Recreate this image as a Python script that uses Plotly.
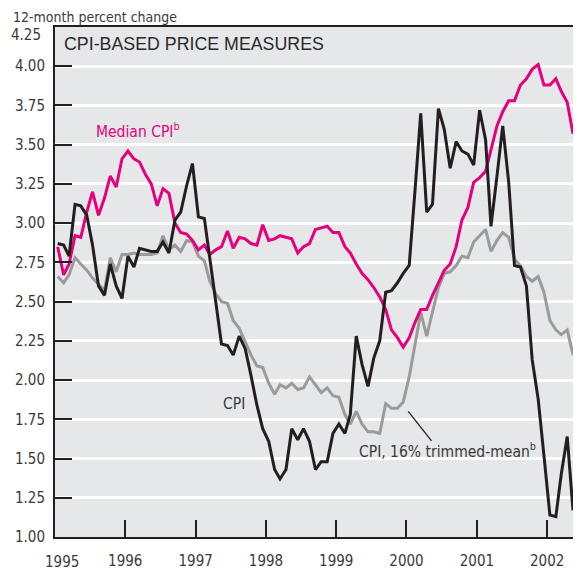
import plotly.graph_objects as go
import pandas as pd

# Monthly observations, Jan 1995 - May 2002 (plotted mid-month)
dates = pd.date_range("1995-01-01", periods=89, freq="MS") + pd.Timedelta(days=14)

cpi = [2.87, 2.86, 2.79, 3.12, 3.11, 3.05, 2.86, 2.60, 2.54, 2.74, 2.60, 2.52,
       2.79, 2.72, 2.84, 2.83, 2.82, 2.82, 2.88, 2.81, 3.02, 3.07, 3.24, 3.38,
       3.04, 3.03, 2.78, 2.50, 2.23, 2.22, 2.16, 2.28, 2.20, 2.03, 1.84, 1.69,
       1.61, 1.43, 1.37, 1.43, 1.69, 1.62, 1.69, 1.61, 1.43, 1.48, 1.48, 1.66,
       1.72, 1.66, 1.78, 2.28, 2.10, 1.96, 2.14, 2.25, 2.56, 2.57, 2.62, 2.68,
       2.73, 3.22, 3.70, 3.07, 3.12, 3.73, 3.60, 3.35, 3.52, 3.46, 3.44, 3.37,
       3.72, 3.53, 2.98, 3.30, 3.62, 3.26, 2.73, 2.72, 2.60, 2.13, 1.88, 1.52,
       1.14, 1.13, 1.40, 1.64, 1.17]

median_cpi = [2.85, 2.67, 2.74, 2.92, 2.91, 3.07, 3.20, 3.05, 3.16, 3.30, 3.23, 3.41,
              3.46, 3.41, 3.39, 3.31, 3.25, 3.11, 3.22, 3.19, 3.00, 2.94, 2.93, 2.89,
              2.83, 2.86, 2.80, 2.83, 2.85, 2.95, 2.84, 2.91, 2.90, 2.87, 2.86, 2.99,
              2.89, 2.90, 2.92, 2.91, 2.90, 2.81, 2.85, 2.87, 2.96, 2.97, 2.98, 2.94,
              2.94, 2.85, 2.81, 2.74, 2.68, 2.64, 2.59, 2.53, 2.45, 2.32, 2.27, 2.21,
              2.27, 2.37, 2.45, 2.45, 2.54, 2.62, 2.70, 2.74, 2.85, 3.02, 3.10, 3.26,
              3.29, 3.33, 3.47, 3.62, 3.71, 3.78, 3.78, 3.88, 3.92, 3.98, 4.01, 3.88,
              3.88, 3.92, 3.84, 3.77, 3.57]

trimmed_mean = [2.66, 2.62, 2.67, 2.78, 2.74, 2.70, 2.65, 2.61, 2.57, 2.78, 2.69, 2.80,
                2.80, 2.81, 2.80, 2.80, 2.80, 2.81, 2.92, 2.83, 2.86, 2.82, 2.89, 2.88,
                2.79, 2.76, 2.63, 2.55, 2.50, 2.49, 2.38, 2.33, 2.24, 2.16, 2.09, 2.08,
                1.98, 1.91, 1.97, 1.95, 1.98, 1.94, 1.95, 2.02, 1.97, 1.92, 1.95, 1.90,
                1.89, 1.78, 1.72, 1.80, 1.72, 1.67, 1.67, 1.66, 1.85, 1.82, 1.82, 1.86,
                2.02, 2.22, 2.43, 2.28, 2.44, 2.59, 2.68, 2.69, 2.73, 2.79, 2.78, 2.88,
                2.92, 2.96, 2.82, 2.89, 2.94, 2.91, 2.77, 2.73, 2.66, 2.63, 2.66, 2.56,
                2.38, 2.32, 2.29, 2.32, 2.16]

y_ticks = [1.00, 1.25, 1.50, 1.75, 2.00, 2.25, 2.50, 2.75, 3.00, 3.25, 3.50, 3.75, 4.00, 4.25]
y_ticklabels = ["%.2f" % v for v in y_ticks]
x_years = [1995, 1996, 1997, 1998, 1999, 2000, 2001, 2002]
x_ticklabels = [str(y) for y in x_years]

MAGENTA = "#e5007e"
BLACK = "#231f20"
GRAY = "#9b9b9b"
NARROW = "DejaVu Sans Condensed, Liberation Sans Narrow, sans-serif"
TEXTC = "#3a3a3a"

fig = go.Figure()
fig.add_trace(go.Scatter(x=dates, y=trimmed_mean, mode="lines", name="CPI, 16% trimmed-mean",
                         line=dict(color=GRAY, width=3)))
fig.add_trace(go.Scatter(x=dates, y=median_cpi, mode="lines", name="Median CPI",
                         line=dict(color=MAGENTA, width=3)))
fig.add_trace(go.Scatter(x=dates, y=cpi, mode="lines", name="CPI",
                         line=dict(color=BLACK, width=3)))

# page body adds an 8px margin; figure sized to compensate
fig.update_layout(
    width=573, height=565,
    margin=dict(l=47, r=3, t=19, b=34),
    paper_bgcolor="white",
    plot_bgcolor="#e6e7e8",
    showlegend=False,
    font=dict(family=NARROW, size=15, color=TEXTC),
)
fig.update_xaxes(
    type="date",
    range=["1995-01-01", "2002-06-10"],
    tickvals=[pd.Timestamp(year=y, month=1, day=1) for y in x_years],
    ticktext=[""] + x_ticklabels[1:],
    ticks="inside", ticklen=17, tickwidth=2, tickcolor=BLACK,
    ticklabelstandoff=9,
    showgrid=False, zeroline=False,
    showline=True, linecolor=BLACK, linewidth=2, mirror=True,
    tickfont=dict(family=NARROW, size=15, color=TEXTC),
)
fig.update_yaxes(
    range=[1.0, 4.25],
    tickvals=y_ticks, ticktext=y_ticklabels[:-1] + [""],
    ticks="inside", ticklen=17, tickwidth=2, tickcolor=BLACK,
    ticklabelstandoff=5,
    showgrid=True, gridcolor="white", gridwidth=2.5,
    zeroline=False,
    showline=True, linecolor=BLACK, linewidth=2,
    tickfont=dict(family=NARROW, size=15, color=TEXTC),
)

# edge tick labels nudged inward as in the original
fig.add_annotation(xref="paper", x=0, y=y_ticks[-1], xanchor="right", yanchor="middle",
                   xshift=-12, yshift=-8, text=y_ticklabels[-1], showarrow=False,
                   font=dict(family=NARROW, size=15, color=TEXTC))
fig.add_annotation(x=pd.Timestamp(year=x_years[0], month=1, day=1), yref="paper", y=0,
                   xanchor="center", yanchor="top", xshift=7, yshift=-14,
                   text=x_ticklabels[0], showarrow=False,
                   font=dict(family=NARROW, size=15, color=TEXTC))

fig.add_annotation(xref="paper", yref="paper", x=0, y=1, xanchor="left", yanchor="bottom",
                   xshift=-44, yshift=0, text="12-month percent change", showarrow=False,
                   font=dict(family=NARROW, size=14, color=TEXTC))
fig.add_annotation(xref="paper", yref="paper", x=0, y=1, xanchor="left", yanchor="top",
                   xshift=7, yshift=-5, text="CPI-BASED PRICE MEASURES", showarrow=False,
                   font=dict(family="Liberation Sans, Arial, sans-serif", size=17.8, color="#2a2a2a"))
fig.add_annotation(x="1995-07-20", y=3.59, xanchor="left", yanchor="middle",
                   text="Median CPI<sup>b</sup>", showarrow=False,
                   font=dict(family=NARROW, size=15.5, color=MAGENTA))
fig.add_annotation(x="1997-07-20", y=1.85, xanchor="center", yanchor="middle",
                   text="CPI", showarrow=False,
                   font=dict(family=NARROW, size=15.5, color=TEXTC))
fig.add_annotation(x="1999-04-20", y=1.55, xanchor="left", yanchor="middle",
                   text="CPI, 16% trimmed-mean<sup>b</sup>", showarrow=False,
                   font=dict(family=NARROW, size=15.5, color=TEXTC))
fig.add_shape(type="line", x0="2000-01-10", y0=1.80, x1="2000-05-10", y1=1.612,
              line=dict(color=BLACK, width=1.3))

fig.write_html("out.html")
